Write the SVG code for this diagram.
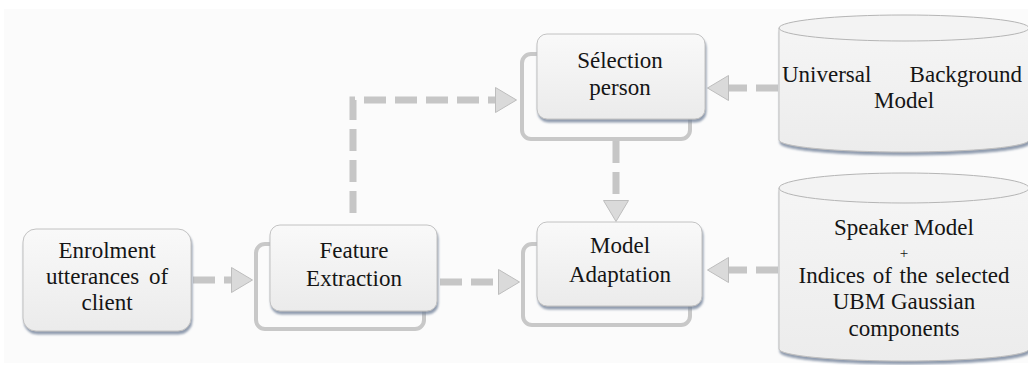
<svg xmlns="http://www.w3.org/2000/svg" width="1028" height="365" viewBox="0 0 1028 365">
<defs>
<linearGradient id="boxFill" x1="0" y1="0" x2="0" y2="1">
<stop offset="0" stop-color="#f9f9f9"/>
<stop offset="1" stop-color="#ebebeb"/>
</linearGradient>
<linearGradient id="cylFill" x1="0" y1="0" x2="0" y2="1">
<stop offset="0" stop-color="#f5f5f5"/>
<stop offset="1" stop-color="#ececec"/>
</linearGradient>
<filter id="shadow" x="-10%" y="-10%" width="120%" height="130%">
<feDropShadow dx="1" dy="3" stdDeviation="1" flood-color="#6d7d95" flood-opacity="0.75"/>
</filter>
<marker id="arrow" viewBox="0 0 22 26" refX="0" refY="13" markerWidth="22" markerHeight="26" markerUnits="userSpaceOnUse" orient="auto">
<path d="M0.5,0.5 L21.5,13 L0.5,25.5 Z" fill="#dadada" stroke="#bdbdbd" stroke-width="1"/>
</marker>
</defs>
<style>
.front{fill:url(#boxFill);stroke:#c2c2c2;stroke-width:1;filter:url(#shadow)}
.back{fill:none;stroke:#c8c8c8;stroke-width:4}
.cyl{fill:url(#cylFill);stroke:#bfbfbf;stroke-width:1}
.cyltop{fill:#f3f3f3;stroke:#b5b5b5;stroke-width:1}
.conn{fill:none;stroke:#c6c6c6;stroke-width:7;stroke-dasharray:22 9;marker-end:url(#arrow)}
.lbl{font-family:"Liberation Serif";font-size:23px;fill:#151515;text-anchor:middle}
</style>
<rect x="0" y="0" width="1028" height="365" fill="#ffffff"/>
<rect x="4" y="9" width="1024" height="354" fill="#fbfbfb"/>

<g id="connectors">
<path class="conn" d="M193,280 H231"/>
<path class="conn" d="M440,282 H498"/>
<path class="conn" d="M353,213 V100 H495"/>
<path class="conn" d="M616,141 V200"/>
<path class="conn" d="M778,88 H729"/>
<path class="conn" d="M778,270 H729"/>
</g>

<g id="enrolment">
<rect class="front" x="23" y="229" width="168" height="102" rx="13"/>
<g class="lbl">
<text x="107" y="258">Enrolment</text>
<text x="107" y="284" word-spacing="4">utterances of</text>
<text x="107" y="310">client</text>
</g>
</g>

<g id="feature-extraction">
<rect class="back" x="256" y="244" width="168" height="85" rx="9"/>
<rect class="front" x="270" y="225" width="167" height="86" rx="10"/>
<g class="lbl">
<text x="354" y="258">Feature</text>
<text x="354" y="286">Extraction</text>
</g>
</g>

<g id="selection-person">
<rect class="back" x="522" y="54" width="168" height="85" rx="9"/>
<rect class="front" x="537" y="34" width="168" height="85" rx="10"/>
<g class="lbl">
<text x="620" y="68">Sélection</text>
<text x="620" y="95">person</text>
</g>
</g>

<g id="model-adaptation">
<rect class="back" x="523" y="244" width="167" height="81" rx="9"/>
<rect class="front" x="537" y="222" width="165" height="84" rx="10"/>
<g class="lbl">
<text x="620" y="253">Model</text>
<text x="620" y="282">Adaptation</text>
</g>
</g>

<g id="ubm">
<path class="cyl" filter="url(#shadow)" d="M779,28 V140 A125,12 0 0 0 1029,140 V28 Z"/>
<ellipse class="cyltop" cx="904" cy="28" rx="125" ry="13"/>
<g class="lbl">
<text x="782" y="82" style="text-anchor:start">Universal</text>
<text x="1022" y="82" style="text-anchor:end">Background</text>
<text x="904" y="108">Model</text>
</g>
</g>

<g id="speaker-model">
<path class="cyl" filter="url(#shadow)" d="M779,188 V349 A125,12 0 0 0 1029,349 V188 Z"/>
<ellipse class="cyltop" cx="904" cy="188" rx="125" ry="15"/>
<g class="lbl">
<text x="904" y="235">Speaker Model</text>
<text x="904" y="258" style="font-size:15px">+</text>
<text x="904" y="283" word-spacing="2">Indices of the selected</text>
<text x="904" y="309">UBM Gaussian</text>
<text x="904" y="336">components</text>
</g>
</g>
</svg>
